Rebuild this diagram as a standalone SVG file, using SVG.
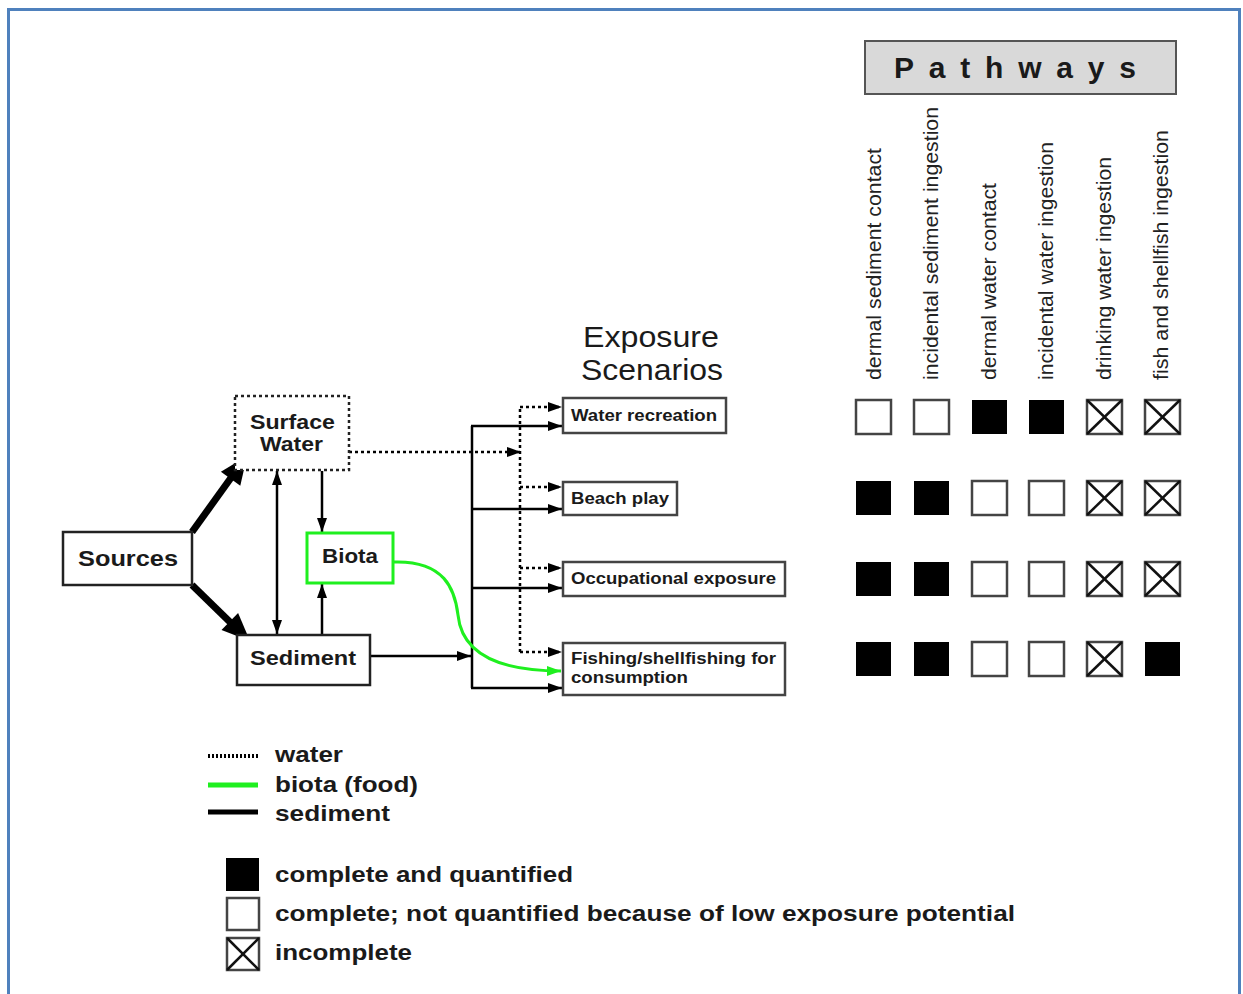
<svg xmlns="http://www.w3.org/2000/svg" width="1243" height="994" viewBox="0 0 1243 994">
<style>
text{font-family:"Liberation Sans",Arial,sans-serif;fill:#1a1a1a}
.b{font-weight:bold}
.node{fill:#fff;stroke:#222;stroke-width:2.5}
.sc{fill:#fff;stroke:#444;stroke-width:2.5}
.ln{stroke:#000;stroke-width:2.5;fill:none}
.dot{stroke:#000;stroke-width:2.5;fill:none;stroke-dasharray:3 3}
.thick{stroke:#000;stroke-width:7;fill:none}
.grn{stroke:#1fef1f;stroke-width:3;fill:none}
.f{fill:#000}
.o{fill:#fff;stroke:#444;stroke-width:2.5}
.x{stroke:#111;stroke-width:2.5}
.col{font-size:21px;fill:#222}
</style>
<defs>
<marker id="ah" viewBox="0 0 14 10" refX="14" refY="5" markerWidth="14" markerHeight="10" markerUnits="userSpaceOnUse" orient="auto-start-reverse"><path d="M0,0L14,5L0,10z" fill="#000"/></marker>
<marker id="ahG" viewBox="0 0 14 10" refX="14" refY="5" markerWidth="14" markerHeight="10" markerUnits="userSpaceOnUse" orient="auto"><path d="M0,0L14,5L0,10z" fill="#1fef1f"/></marker>
<g id="xbox"><rect class="o" x="0" y="0" width="35" height="34"/><line class="x" x1="0" y1="0" x2="35" y2="34"/><line class="x" x1="35" y1="0" x2="0" y2="34"/></g>
</defs>
<rect x="8.5" y="9.5" width="1231" height="1000" fill="#fff" stroke="#4f81bd" stroke-width="3"/>

<g id="connectors">
<line class="thick" x1="192" y1="532" x2="233" y2="475"/>
<polygon points="247,456 240.3,485.7 220.9,471.7" fill="#000"/>
<line class="thick" x1="192" y1="585" x2="232" y2="624"/>
<polygon points="250,641 221.5,630.1 238.1,612.9" fill="#000"/>
<line class="ln" x1="277" y1="471" x2="277" y2="634" marker-start="url(#ah)" marker-end="url(#ah)"/>
<line class="ln" x1="322" y1="471" x2="322" y2="532" marker-end="url(#ah)"/>
<line class="ln" x1="322" y1="634" x2="322" y2="584" marker-end="url(#ah)"/>
<line class="dot" x1="349" y1="452" x2="521" y2="452" marker-end="url(#ah)"/>
<line class="ln" x1="370" y1="656" x2="471" y2="656" marker-end="url(#ah)"/>
<path class="dot" d="M520,652V407"/>
<line class="dot" x1="520" y1="407" x2="562" y2="407" marker-end="url(#ah)"/>
<line class="dot" x1="520" y1="487" x2="562" y2="487" marker-end="url(#ah)"/>
<line class="dot" x1="520" y1="568" x2="562" y2="568" marker-end="url(#ah)"/>
<line class="dot" x1="520" y1="652" x2="562" y2="652" marker-end="url(#ah)"/>
<path class="ln" d="M472,426V688"/>
<line class="ln" x1="471" y1="426" x2="562" y2="426" marker-end="url(#ah)"/>
<line class="ln" x1="472" y1="509" x2="562" y2="509" marker-end="url(#ah)"/>
<line class="ln" x1="472" y1="588" x2="562" y2="588" marker-end="url(#ah)"/>
<line class="ln" x1="471" y1="688" x2="562" y2="688" marker-end="url(#ah)"/>
<path class="grn" d="M393,562C445,560 455,590 458,615C462,655 500,671 561,671" marker-end="url(#ahG)"/>
</g>

<g id="sources"><rect class="node" x="63" y="532" width="129" height="53"/><text class="b" x="78" y="566" font-size="22" textLength="100" lengthAdjust="spacingAndGlyphs">Sources</text></g>
<g id="surface-water"><rect x="235" y="396" width="114" height="74" fill="#fff" stroke="#222" stroke-width="2.5" stroke-dasharray="3 3"/><text class="b" x="250" y="429" font-size="20" textLength="85" lengthAdjust="spacingAndGlyphs">Surface</text><text class="b" x="260" y="451" font-size="20" textLength="63" lengthAdjust="spacingAndGlyphs">Water</text></g>
<g id="biota"><rect x="307" y="533" width="86" height="50" fill="#fff" stroke="#1fef1f" stroke-width="3"/><text class="b" x="322" y="563" font-size="20" textLength="56" lengthAdjust="spacingAndGlyphs">Biota</text></g>
<g id="sediment"><rect class="node" x="237" y="635" width="133" height="50"/><text class="b" x="250" y="665" font-size="20" textLength="106" lengthAdjust="spacingAndGlyphs">Sediment</text></g>

<g id="exposure-title"><text x="583" y="347" font-size="30" textLength="136" lengthAdjust="spacingAndGlyphs">Exposure</text><text x="581" y="380" font-size="30" textLength="142" lengthAdjust="spacingAndGlyphs">Scenarios</text></g>
<g id="water-recreation"><rect class="sc" x="563" y="398" width="163" height="35"/><text class="b" x="571" y="421" font-size="16" textLength="146" lengthAdjust="spacingAndGlyphs">Water recreation</text></g>
<g id="beach-play"><rect class="sc" x="563" y="482" width="114" height="33"/><text class="b" x="571" y="504" font-size="16" textLength="98" lengthAdjust="spacingAndGlyphs">Beach play</text></g>
<g id="occupational"><rect class="sc" x="563" y="562" width="222" height="34"/><text class="b" x="571" y="584" font-size="16" textLength="205" lengthAdjust="spacingAndGlyphs">Occupational exposure</text></g>
<g id="fishing"><rect class="sc" x="563" y="643" width="222" height="52"/><text class="b" x="571" y="664" font-size="16" textLength="205" lengthAdjust="spacingAndGlyphs">Fishing/shellfishing for</text><text class="b" x="571" y="683" font-size="16" textLength="117" lengthAdjust="spacingAndGlyphs">consumption</text></g>

<g id="pathways"><rect x="865" y="41" width="311" height="53" fill="#d9d9d9" stroke="#555" stroke-width="2"/><text class="b" x="894" y="78" font-size="30" fill="#111" textLength="242" lengthAdjust="spacing">Pathways</text></g>
<g id="columns">
<text class="col" transform="translate(881,380) rotate(-90)" textLength="232" lengthAdjust="spacingAndGlyphs">dermal sediment contact</text>
<text class="col" transform="translate(938,380) rotate(-90)" textLength="273" lengthAdjust="spacingAndGlyphs">incidental sediment ingestion</text>
<text class="col" transform="translate(996,380) rotate(-90)" textLength="197" lengthAdjust="spacingAndGlyphs">dermal water contact</text>
<text class="col" transform="translate(1053,380) rotate(-90)" textLength="238" lengthAdjust="spacingAndGlyphs">incidental water ingestion</text>
<text class="col" transform="translate(1111,380) rotate(-90)" textLength="223" lengthAdjust="spacingAndGlyphs">drinking water ingestion</text>
<text class="col" transform="translate(1168,380) rotate(-90)" textLength="250" lengthAdjust="spacingAndGlyphs">fish and shellfish ingestion</text>
</g>
<g id="matrix">
<rect class="o" x="856" y="400" width="35" height="34"/><rect class="o" x="914" y="400" width="35" height="34"/><rect class="f" x="972" y="400" width="35" height="34"/><rect class="f" x="1029" y="400" width="35" height="34"/><use href="#xbox" x="1087" y="400"/><use href="#xbox" x="1145" y="400"/>
<rect class="f" x="856" y="481" width="35" height="34"/><rect class="f" x="914" y="481" width="35" height="34"/><rect class="o" x="972" y="481" width="35" height="34"/><rect class="o" x="1029" y="481" width="35" height="34"/><use href="#xbox" x="1087" y="481"/><use href="#xbox" x="1145" y="481"/>
<rect class="f" x="856" y="562" width="35" height="34"/><rect class="f" x="914" y="562" width="35" height="34"/><rect class="o" x="972" y="562" width="35" height="34"/><rect class="o" x="1029" y="562" width="35" height="34"/><use href="#xbox" x="1087" y="562"/><use href="#xbox" x="1145" y="562"/>
<rect class="f" x="856" y="642" width="35" height="34"/><rect class="f" x="914" y="642" width="35" height="34"/><rect class="o" x="972" y="642" width="35" height="34"/><rect class="o" x="1029" y="642" width="35" height="34"/><use href="#xbox" x="1087" y="642"/><rect class="f" x="1145" y="642" width="35" height="34"/>
</g>

<g id="legend">
<line x1="208" y1="756" x2="258" y2="756" stroke="#000" stroke-width="4" stroke-dasharray="2 2"/>
<line x1="208" y1="785" x2="258" y2="785" stroke="#1fef1f" stroke-width="5"/>
<line x1="208" y1="812" x2="258" y2="812" stroke="#000" stroke-width="5"/>
<text class="b" x="275" y="762" font-size="22" textLength="68" lengthAdjust="spacingAndGlyphs">water</text>
<text class="b" x="275" y="792" font-size="22" textLength="143" lengthAdjust="spacingAndGlyphs">biota (food)</text>
<text class="b" x="275" y="821" font-size="22" textLength="115" lengthAdjust="spacingAndGlyphs">sediment</text>
<rect class="f" x="226" y="858" width="33" height="33"/>
<rect class="o" x="227" y="898" width="32" height="32"/>
<rect class="o" x="227" y="938" width="32" height="32"/><line class="x" x1="227" y1="938" x2="259" y2="970"/><line class="x" x1="259" y1="938" x2="227" y2="970"/>
<text class="b" x="275" y="882" font-size="22" textLength="298" lengthAdjust="spacingAndGlyphs">complete and quantified</text>
<text class="b" x="275" y="921" font-size="22" textLength="740" lengthAdjust="spacingAndGlyphs">complete; not quantified because of low exposure potential</text>
<text class="b" x="275" y="960" font-size="22" textLength="137" lengthAdjust="spacingAndGlyphs">incomplete</text>
</g>
</svg>
